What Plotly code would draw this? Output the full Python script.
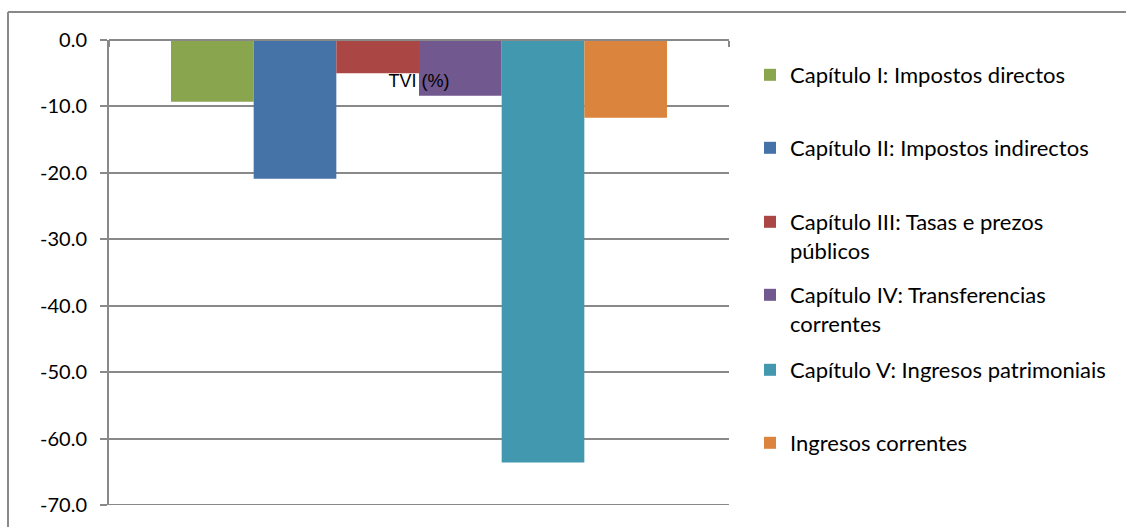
import plotly.graph_objects as go

category = ["TVI (%)"]
series_names = [
    "Capítulo I: Impostos directos",
    "Capítulo II: Impostos indirectos",
    "Capítulo III: Tasas e prezos<br>públicos",
    "Capítulo IV: Transferencias<br>correntes",
    "Capítulo V: Ingresos patrimoniais",
    "Ingresos correntes",
]
series_values = [-9.3, -20.9, -5.0, -8.4, -63.6, -11.7]
series_colors = ["#89A54E", "#4572A7", "#AA4643", "#71588F", "#4198AF", "#DB843D"]
y_ticks = [0, -10, -20, -30, -40, -50, -60, -70]
y_ticktext = [f"{v:.1f}" for v in y_ticks]
y_ticktext[0] = "0.0"

W, H = 1126, 527
L, R, T, B = 109, 397, 40, 22
pw, ph = W - L - R, H - T - B

def py(pix):
    return 1 - (pix - T) / ph

def px(pix):
    return (pix - L) / pw

fig = go.Figure()
legend_tops = [54, 127, 201, 274, 349, 422]
for i, (n, v, c) in enumerate(zip(series_names, series_values, series_colors)):
    lg = "legend" if i == 0 else f"legend{i+1}"
    fig.add_trace(go.Bar(x=category, y=[v], name=n, marker=dict(color=c, line=dict(width=0)),
                         legend=lg))

legend_common = dict(
    x=px(750), xanchor="left", yanchor="top",
    font=dict(family="Lato", size=22, color="#000000"),
    bgcolor="rgba(0,0,0,0)", valign="top", borderwidth=0,
)
layout_legends = {}
for i, top in enumerate(legend_tops):
    key = "legend" if i == 0 else f"legend{i+1}"
    layout_legends[key] = dict(legend_common, y=py(top))

fig.update_layout(
    width=W, height=H,
    margin=dict(l=L, r=R, t=T, b=B),
    paper_bgcolor="white", plot_bgcolor="white",
    barmode="group", bargap=0.2, bargroupgap=0,
    showlegend=True,
    xaxis=dict(
        type="category", side="bottom", anchor="free", position=1,
        ticklabelstandoff=24,
        showline=True, linecolor="#898989", linewidth=2,
        ticks="outside", ticklen=6, tickcolor="#898989", tickwidth=2,
        tickson="boundaries", showgrid=False, zeroline=False,
        tickfont=dict(family="Liberation Sans", size=18, color="#000000"),
    ),
    yaxis=dict(
        range=[-70, 0], tickvals=y_ticks, ticktext=y_ticktext,
        showline=True, linecolor="#898989", linewidth=2,
        ticks="outside", ticklen=7, tickcolor="#898989", tickwidth=2,
        showgrid=True, gridcolor="#898989", gridwidth=2, zeroline=False,
        tickfont=dict(family="Lato", size=20, color="#000000"),
        ticklabelstandoff=9,
    ),
    shapes=[
        dict(type="line", xref="paper", yref="paper", x0=px(8), x1=px(1130), y0=py(12), y1=py(12),
             line=dict(color="#898989", width=2)),
        dict(type="line", xref="paper", yref="paper", x0=px(8), x1=px(8), y0=py(12), y1=py(530),
             line=dict(color="#898989", width=2)),
        dict(type="line", xref="x domain", yref="y", x0=0, x1=1,
             y0=min(y_ticks), y1=min(y_ticks), layer="below",
             line=dict(color="#898989", width=2)),
    ],
    **layout_legends,
)

fig.write_html("out.html", post_script="document.body.style.margin='0';",
               config={"displayModeBar": False})
